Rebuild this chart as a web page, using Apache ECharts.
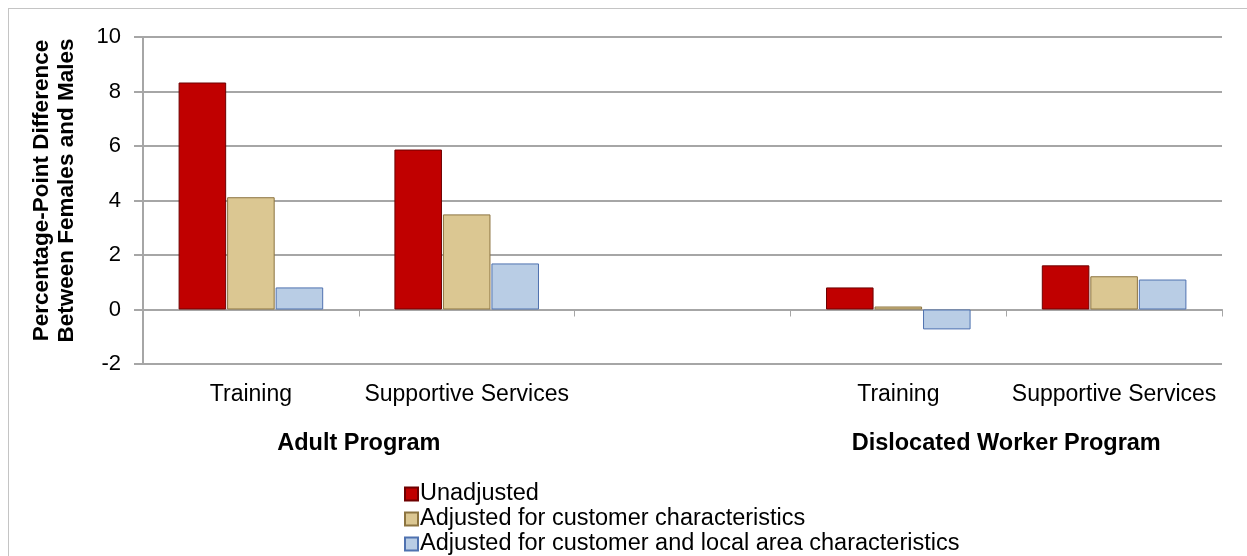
<!DOCTYPE html>
<html>
<head>
<meta charset="utf-8">
<script src="https://cdn.jsdelivr.net/npm/echarts@6/dist/echarts.min.js"></script>
<style>
  html, body { margin: 0; padding: 0; background: #fff; }
  #frame { position: absolute; left: 8px; top: 8px; width: 1239px; height: 548px;
           border-top: 1px solid #c4c4c4; border-left: 1px solid #c4c4c4; }
  #main { position: absolute; left: 0; top: 0; width: 1247px; height: 556px; }
</style>
</head>
<body>
<div id="frame"></div>
<div id="main"></div>
<script>
var categories = ['Training', 'Supportive Services', '', 'Training', 'Supportive Services'];
var groupLabels = ['', '', 'Adult Program', '', '', '', '', '', 'Dislocated Worker Program', '', ''];
var seriesNames = ['Unadjusted', 'Adjusted for customer characteristics', 'Adjusted for customer and local area characteristics'];
var unadjusted = [8.33, 5.87, null, 0.81, 1.62];
var adjCustomer = [4.12, 3.49, null, 0.11, 1.22];
var adjLocal = [0.81, 1.69, null, -0.73, 1.10];
var yTicks = [-2, 0, 2, 4, 6, 8, 10];

var myChart = echarts.init(document.getElementById('main'));
var labelFont = 'Arial, "Liberation Sans", sans-serif';
var option = {
  animation: false,
  grid: { left: 143, right: 25, top: 37, bottom: 192, outerBoundsMode: 'none' },
  legend: {
    orient: 'vertical',
    left: 404,
    top: 482,
    height: 90,
    padding: 0,
    itemWidth: 13,
    itemHeight: 13,
    itemGap: 1,
    icon: 'rect',
    textStyle: { fontFamily: labelFont, fontSize: 23.5, lineHeight: 22, color: '#000', padding: [0, 0, 0, -3] },
    data: seriesNames
  },
  xAxis: [{
    type: 'category',
    data: categories,
    axisLine: { onZero: true, lineStyle: { color: '#a6a6a6', width: 2 } },
    axisTick: { show: true, inside: false, length: 7, lineStyle: { color: '#a6a6a6', width: 1 } },
    axisLabel: { show: false }
  }, {
    type: 'category',
    data: categories,
    position: 'bottom',
    axisLine: { show: false, onZero: false },
    axisTick: { show: false },
    axisLabel: { interval: 0, margin: 19, fontFamily: labelFont, fontSize: 23, color: '#000' }
  }, {
    type: 'category',
    data: groupLabels,
    boundaryGap: false,
    position: 'bottom',
    axisLine: { show: false, onZero: false },
    axisTick: { show: false },
    axisLabel: { interval: 0, margin: 68, fontFamily: labelFont, fontSize: 23.5, fontWeight: 'bold', color: '#000' }
  }],
  yAxis: {
    type: 'value',
    min: yTicks[0],
    max: yTicks[yTicks.length - 1],
    interval: 2,
    name: 'Percentage-Point Difference\nBetween Females and Males',
    nameLocation: 'middle',
    nameGap: 64,
    nameTextStyle: { fontFamily: labelFont, fontSize: 22.5, fontWeight: 'bold', color: '#000', lineHeight: 25, padding: [0, 0, 0, 20] },
    axisLine: { show: true, lineStyle: { color: '#a6a6a6', width: 2 } },
    axisTick: { show: true, length: 9, lineStyle: { color: '#a6a6a6', width: 2 } },
    axisLabel: { margin: 22, fontFamily: labelFont, fontSize: 22, color: '#000' },
    splitLine: { lineStyle: { color: '#a6a6a6', width: 2 } }
  },
  series: [{
    name: seriesNames[0],
    type: 'bar',
    data: unadjusted,
    barGap: '2%',
    barCategoryGap: '33%',
    itemStyle: { color: '#c00000', borderColor: '#6e0000', borderWidth: 1 }
  }, {
    name: seriesNames[1],
    type: 'bar',
    data: adjCustomer,
    itemStyle: { color: '#dbc792', borderColor: '#8c7440', borderWidth: 1 }
  }, {
    name: seriesNames[2],
    type: 'bar',
    data: adjLocal,
    itemStyle: { color: '#b9cde5', borderColor: '#4f72b0', borderWidth: 1 }
  }]
};
myChart.setOption(option);
</script>
</body>
</html>
